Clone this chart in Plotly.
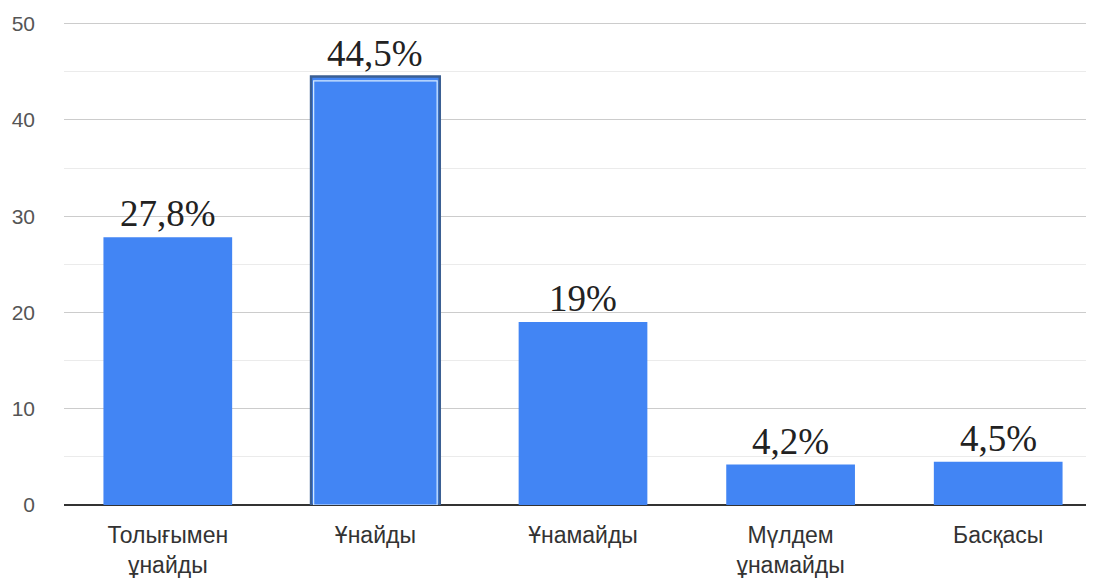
import plotly.graph_objects as go

categories = ["Толығымен<br>ұнайды", "Ұнайды", "Ұнамайды", "Мүлдем<br>ұнамайды", "Басқасы"]
values = [27.8, 44.5, 19, 4.2, 4.5]
labels = ["27,8%", "44,5%", "19%", "4,2%", "4,5%"]
highlight_index = 1

BLUE = "#4285f4"
x_idx = list(range(len(categories)))

line_colors = ["#3b5f93" if i == highlight_index else BLUE for i in x_idx]
line_widths = [2.5 if i == highlight_index else 0 for i in x_idx]

fig = go.Figure()
fig.add_trace(go.Bar(
    x=x_idx, y=values, width=0.62,
    marker=dict(color=BLUE, line=dict(color=line_colors, width=line_widths)),
    hoverinfo="skip",
))
# inner light border of highlighted bar
fig.add_trace(go.Bar(
    x=[highlight_index], y=[values[highlight_index] - 0.45], width=0.595,
    marker=dict(color=BLUE, line=dict(color="#d8ecff", width=1.2)),
    hoverinfo="skip",
))

for i, (v, t) in enumerate(zip(values, labels)):
    fig.add_annotation(
        x=i, y=v, text=t, showarrow=False, xanchor="center", yanchor="bottom",
        yshift=1, font=dict(family="Liberation Serif", size=37, color="#222222"),
    )

fig.update_layout(
    barmode="overlay",
    width=1094, height=580,
    margin=dict(l=56, r=0, t=6, b=83, autoexpand=False),
    paper_bgcolor="white", plot_bgcolor="white",
    showlegend=False,
    xaxis=dict(
        tickmode="array", tickvals=x_idx, ticktext=categories,
        range=[-0.5, 4.5], showgrid=False, ticks="", automargin=False,
        tickfont=dict(family="Liberation Sans", size=23, color="#333333"),
        showline=False, zeroline=False, ticklabelstandoff=14,
    ),
    yaxis=dict(
        range=[0, 51], tickvals=[0, 10, 20, 30, 40, 50],
        showgrid=True, gridcolor="#cccccc", gridwidth=1,
        minor=dict(tickvals=[5, 15, 25, 35, 45], showgrid=True, gridcolor="#ebebeb", gridwidth=1),
        zeroline=True, zerolinecolor="#333333", zerolinewidth=1.5,
        ticks="", ticklabelstandoff=28, automargin=False,
        tickfont=dict(family="Liberation Sans", size=21, color="#555555"),
    ),
)

fig.write_html("out.html")
